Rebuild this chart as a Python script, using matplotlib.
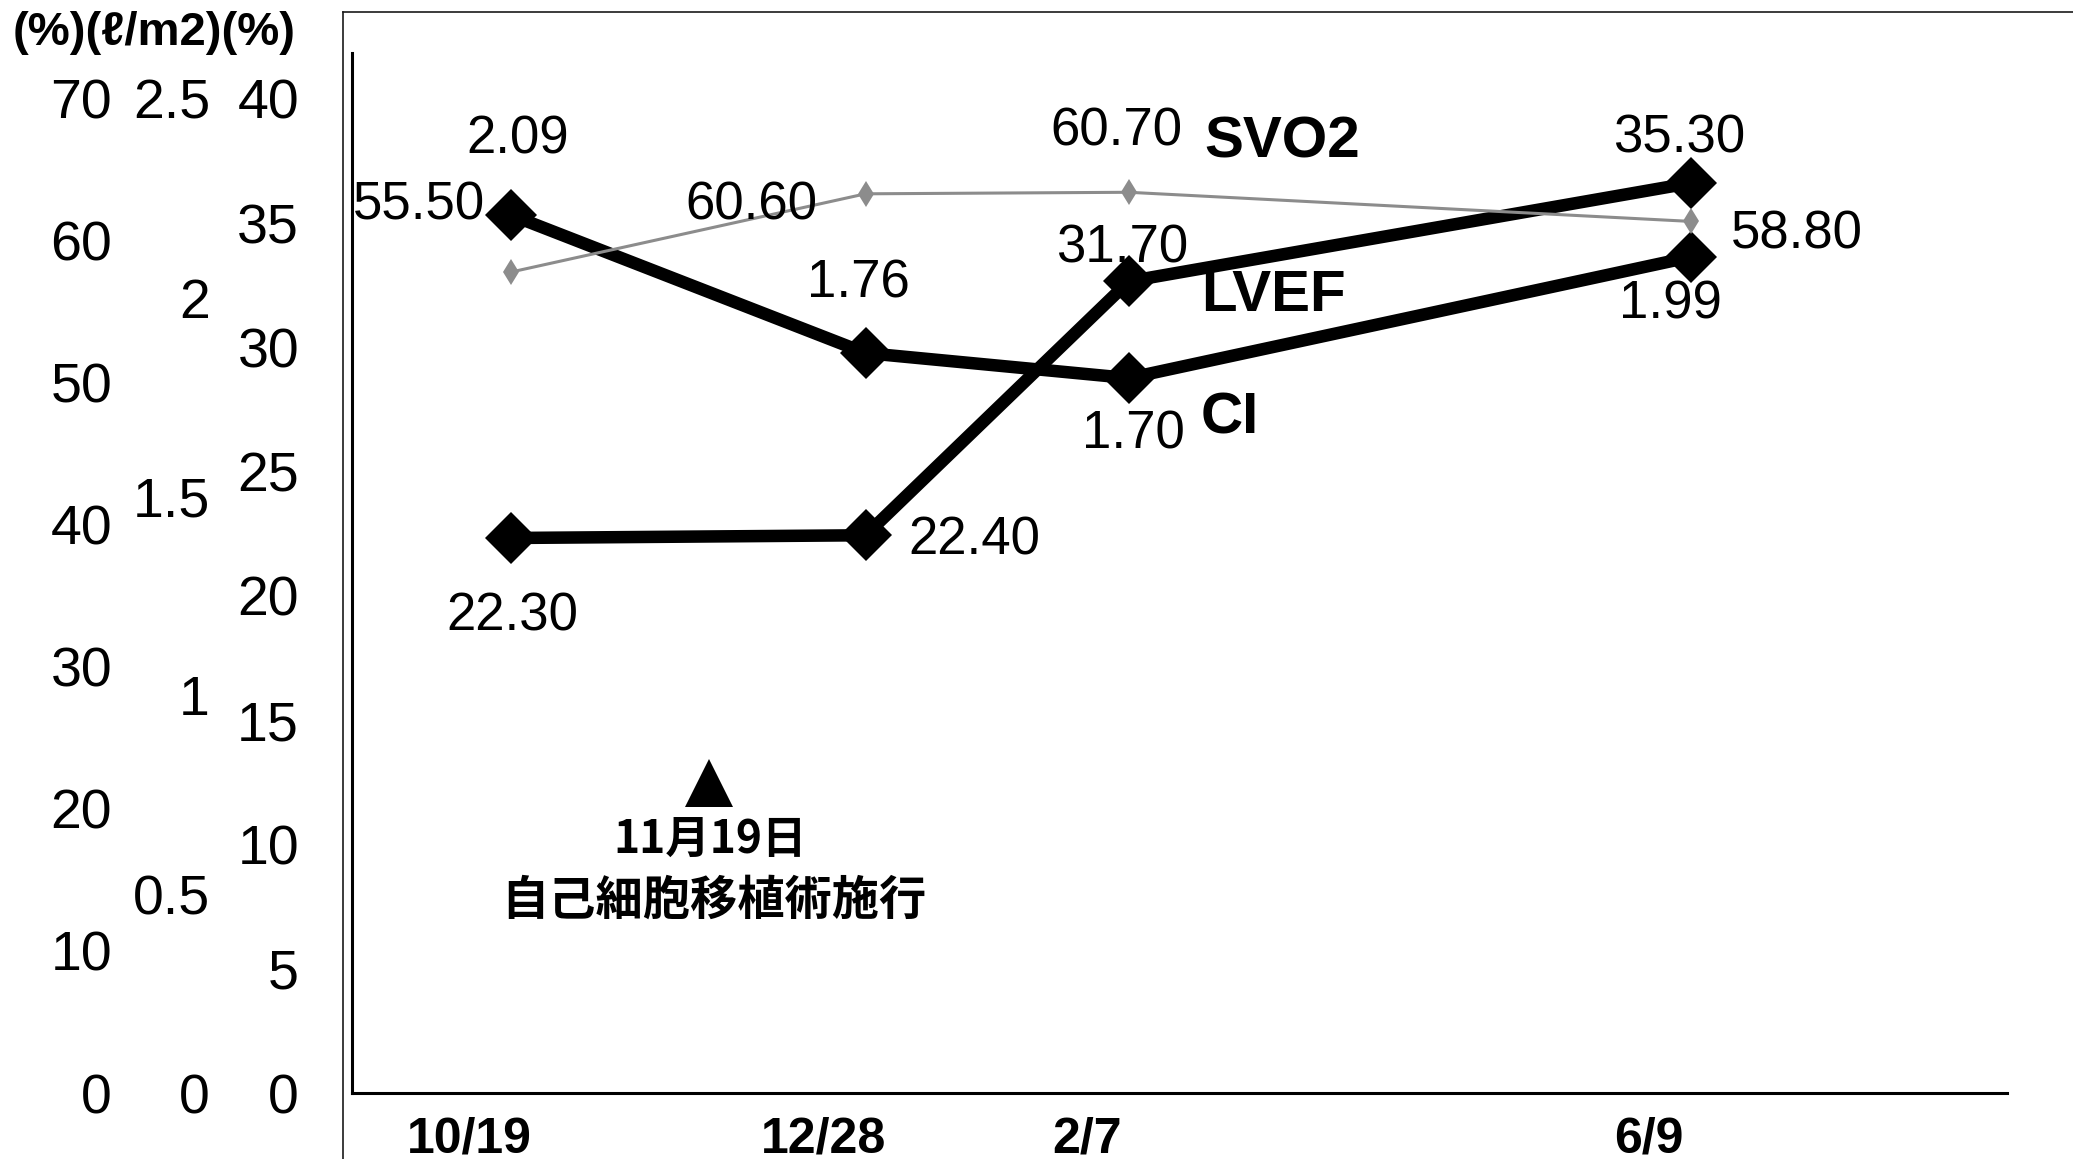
import matplotlib
matplotlib.use("Agg")
import matplotlib.pyplot as plt
from matplotlib.lines import Line2D

# time axis: days after 10/19 as placed on the drawing
dates = ["10/19", "12/28", "2/7", "6/9"]
x_pos = [0, 70, 122, 233]

ci = [2.09, 1.76, 1.70, 1.99]
lvef = [22.30, 22.40, 31.70, 35.30]
svo2 = [55.50, 60.60, 60.70, 58.80]

event_x = 39
event_text = ["11月19日", "自己細胞移植術施行"]

svo2_ticks = [0, 10, 20, 30, 40, 50, 60, 70]
ci_ticks = [0, 0.5, 1, 1.5, 2, 2.5]
ci_ticklabels = ["0", "0.5", "1", "1.5", "2", "2.5"]
lvef_ticks = [0, 5, 10, 15, 20, 25, 30, 35, 40]
header = "(%)(ℓ/m2)(%)"

plt.rcParams["font.family"] = ["Liberation Sans", "DejaVu Sans"]

W, H = 2073, 1159
fig = plt.figure(figsize=(W / 100, H / 100), dpi=100)
rect = [352 / W, (H - 1093) / H, (2007 - 352) / W, (1093 - 53) / H]
xlim = (-31.4, 295.4)


def bare(ax):
    for s in ax.spines.values():
        s.set_visible(False)
    ax.patch.set_visible(False)
    ax.set_xticks([])
    ax.set_xlim(*xlim)


# three columns of y tick labels (left side)
cols = [
    (svo2_ticks, [str(t) for t in svo2_ticks], 70, 112),
    (ci_ticks, ci_ticklabels, 2.5, 210),
    (lvef_ticks, [str(t) for t in lvef_ticks], 40, 299),
]
for ticks, labels, top, edge in cols:
    axt = fig.add_axes(rect)
    bare(axt)
    axt.set_ylim(top * 2 / 996, top * 1042 / 996)
    axt.set_yticks(ticks, labels)
    axt.tick_params(axis="y", length=0, pad=(352 - edge) * 0.72, labelsize=40)

# data axes
ax_lv = fig.add_axes(rect)
ax_ci = fig.add_axes(rect)
ax_sv = fig.add_axes(rect)
for a in (ax_lv, ax_ci, ax_sv):
    bare(a)
    a.set_yticks([])
ax_lv.set_ylim(1.976, 40.06)
ax_ci.set_ylim(-0.011, 2.478)
ax_sv.set_ylim(1.98, 69.78)

ax_lv.spines["left"].set_visible(True)
ax_lv.spines["bottom"].set_visible(True)
ax_lv.spines["left"].set_linewidth(2.2)
ax_lv.spines["bottom"].set_linewidth(2.2)

ax_lv.plot(x_pos, lvef, color="black", lw=9, marker="D", ms=26, mew=0,
           solid_joinstyle="miter")
ax_ci.plot(x_pos, ci, color="black", lw=9, marker="D", ms=26, mew=0,
           solid_joinstyle="miter")
ax_sv.plot(x_pos, svo2, color="#8c8c8c", lw=2.2, marker="d", ms=13, mew=0)

lab = dict(textcoords="offset pixels", ha="center", va="center", fontsize=38)
ci_off = [(7, 76), (-7, 70), (5, -56), (-21, -48)]
lv_off = [(1, -79), (109, -5), (-7, 33), (-12, 44)]
sv_off = [(-92, 67), (-114, -12), (-12, 61), (106, -13)]
for a, vals, offs in ((ax_ci, ci, ci_off), (ax_lv, lvef, lv_off), (ax_sv, svo2, sv_off)):
    for x, v, o in zip(x_pos, vals, offs):
        a.annotate(f"{v:.2f}", (x, v), xytext=o, **lab)

# series names next to the 2/7 points
name = dict(textcoords="offset pixels", ha="left", va="center", fontsize=42,
            fontweight="bold")
ax_sv.annotate("SVO2", (x_pos[2], svo2[2]), xytext=(76, 50), **name)
ax_lv.annotate("LVEF", (x_pos[2], lvef[2]), xytext=(72, -15), **name)
ax_ci.annotate("CI", (x_pos[2], ci[2]), xytext=(72, -40), **name)

# event marker
tr = ax_sv.get_xaxis_transform()
ax_sv.plot([event_x], [0.298], marker="^", ms=35, color="black", mew=0,
           transform=tr, clip_on=False)
jp = dict(xycoords=("data", "axes fraction"), textcoords="offset pixels",
          ha="center", va="center", fontweight="bold",
          family=["Noto Sans CJK JP", "DejaVu Sans"])
ax_sv.annotate(event_text[0], (event_x, 0.298), xytext=(2, -57), fontsize=32, **jp)
ax_sv.annotate(event_text[1], (event_x, 0.298), xytext=(5, -118), fontsize=34, **jp)

# x category labels
for x, d in zip(x_pos, dates):
    ax_lv.annotate(d, (x, 0), xycoords=("data", "axes fraction"),
                   xytext=(-42, -46), textcoords="offset pixels",
                   ha="center", va="center", fontsize=36, fontweight="bold")

fig.text(13 / W, (H - 33) / H, header, ha="left", va="center", fontsize=34,
         fontweight="bold")

# outer frame of the pasted chart
fig.add_artist(Line2D([343 / W, 343 / W], [0, (H - 12) / H],
                      transform=fig.transFigure, color="#1a1a1a", lw=1.2))
fig.add_artist(Line2D([343 / W, 1], [(H - 12) / H, (H - 12) / H],
                      transform=fig.transFigure, color="#1a1a1a", lw=1.2))

fig.savefig("out.png", dpi=100)
